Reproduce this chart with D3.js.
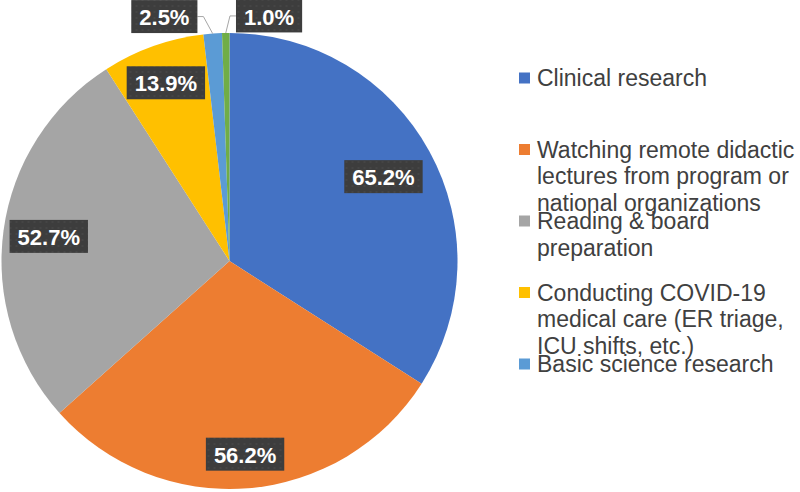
<!doctype html>
<html>
<head>
    <meta charset="utf-8">
    <title>Pie chart</title>
    <script src="https://d3js.org/d3.v7.min.js"></script>
    <style>
        body {
            margin: 0;
            background: white;
        }

        .pct {
            font: bold 22px "Liberation Sans", Arial, Helvetica, sans-serif;
            fill: white;
        }

        .legend-text {
            font: 23px "Liberation Sans", Arial, Helvetica, sans-serif;
            fill: #404040;
        }
    </style>
</head>

<body>
<div id="forChart"></div>

<script>

// chart data
const categories = [
    "Clinical research",
    "Watching remote didactic lectures from program or national organizations",
    "Reading & board preparation",
    "Conducting COVID-19 medical care (ER triage, ICU shifts, etc.)",
    "Basic science research",
    "Other"
];
const values = [65.2, 56.2, 52.7, 13.9, 2.5, 1.0];
const pctLabels = ["65.2%", "56.2%", "52.7%", "13.9%", "2.5%", "1.0%"];

// legend text as it wraps in the original (last slice has no legend row visible)
const legendLines = [
    ["Clinical research"],
    ["Watching remote didactic", "lectures from program or", "national organizations"],
    ["Reading & board", "preparation"],
    ["Conducting COVID-19", "medical care (ER triage,", "ICU shifts, etc.)"],
    ["Basic science research"]
];

const colors = ["#4472C4", "#ED7D31", "#A5A5A5", "#FFC000", "#5B9BD5", "#70AD47"];

const w = 800;
const h = 492;

const pieCx = 229.5;
const pieCy = 261;
const radius = 228;

// how far out (fraction of radius) each inside label sits; 0 = outside label
const labelPos = [0.77, 0.85, 0.80, 0.83, 0, 0];
// outside labels: which side the box goes, and a small sideways nudge of the elbow
const outSide = [0, 0, 0, 0, -1, 1];
const outNudge = [0, 0, 0, 0, -8, 4.5];

const legendX = 519;
const legendTop = 78;
const legendStep = 71.5;
const lineH = 26.5;

const svg = d3.select("#forChart")
    .append("svg")
    .attr("width", w)
    .attr("height", h);

// faint dotted texture of the label boxes
const defs = svg.append("defs");
const pat = defs.append("pattern")
    .attr("id", "boxfill")
    .attr("width", 6)
    .attr("height", 6)
    .attr("patternUnits", "userSpaceOnUse");
pat.append("rect").attr("width", 6).attr("height", 6).attr("fill", "#3d3d3d");
pat.append("circle").attr("cx", 3).attr("cy", 3).attr("r", 1).attr("fill", "#474747");

const pie = d3.pie()
    .sort(null)
    .value(function (d) { return d; });

const arcs = pie(values);

const arc = d3.arc()
    .innerRadius(0)
    .outerRadius(radius);

const g = svg.append("g")
    .attr("transform", "translate(" + pieCx + "," + pieCy + ")");

g.selectAll("path.slice")
    .data(arcs)
    .enter()
    .append("path")
    .attr("class", "slice")
    .attr("d", arc)
    .style("fill", function (d, i) { return colors[i]; });

const midAngle = function (d) { return (d.startAngle + d.endAngle) / 2; };
const polar = function (a, rr) { return [rr * Math.sin(a), -rr * Math.cos(a)]; };

// labels
arcs.forEach(function (d, i) {
    const a = midAngle(d);
    let cx, cy, anchorBox;

    const lab = g.append("g");
    const txt = lab.append("text")
        .attr("class", "pct")
        .attr("text-anchor", "middle")
        .attr("dy", "0.35em")
        .text(pctLabels[i]);

    const tw = txt.node().getComputedTextLength();
    const bw = tw + 16;
    const bh = 33;

    if (labelPos[i] > 0) {
        const p = polar(a, radius * labelPos[i]);
        cx = p[0];
        cy = p[1];
    } else {
        const edge = polar(a, radius);
        const el = polar(a, radius * 1.075);
        el[0] += outNudge[i];
        const endX = el[0] + outSide[i] * 6;
        g.insert("polyline", "g")
            .attr("points", [edge, el, [endX, el[1]]].map(function (q) { return q.join(","); }).join(" "))
            .style("fill", "none")
            .style("stroke", "#a6a6a6")
            .style("stroke-width", 1);
        cx = endX + outSide[i] * bw / 2;
        cy = el[1];
    }

    lab.insert("rect", "text")
        .attr("x", cx - bw / 2)
        .attr("y", cy - bh / 2)
        .attr("width", bw)
        .attr("height", bh)
        .attr("fill", "url(#boxfill)");

    txt.attr("x", cx).attr("y", cy + 1);
});

// legend
const legend = svg.append("g")
    .attr("class", "legend");

const rows = legend.selectAll("g.row")
    .data(legendLines)
    .enter()
    .append("g")
    .attr("class", "row")
    .attr("transform", function (d, i) {
        return "translate(" + legendX + "," + (legendTop + i * legendStep) + ")";
    });

rows.append("rect")
    .attr("x", 0)
    .attr("y", -5.5)
    .attr("width", 11)
    .attr("height", 11)
    .style("fill", function (d, i) { return colors[i]; });

rows.append("text")
    .attr("class", "legend-text")
    .attr("x", 18)
    .attr("y", 8)
    .selectAll("tspan")
    .data(function (d) { return d; })
    .enter()
    .append("tspan")
    .attr("x", 18)
    .attr("dy", function (d, j) { return j === 0 ? 0 : lineH; })
    .text(function (d) { return d; });

</script>

</body>
</html>
